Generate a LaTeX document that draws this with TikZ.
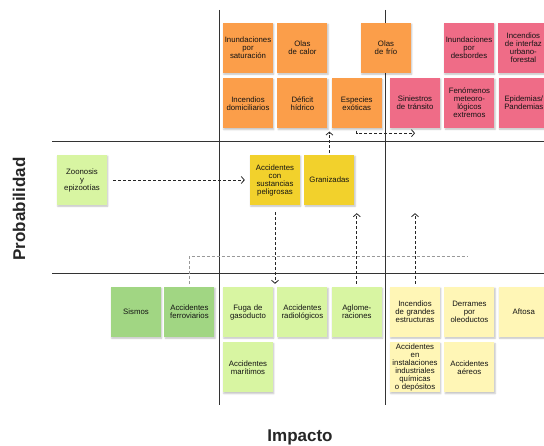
\documentclass[tikz,border=0pt]{standalone}
\usepackage{fontspec}
\setmainfont{Liberation Sans}
\usetikzlibrary{arrows.meta,positioning,shadows.blur}
\definecolor{notaorange}{HTML}{FB9E4A}
\definecolor{notarosa}{HTML}{EF6C87}
\definecolor{notaamarilla}{HTML}{F2D12C}
\definecolor{notaverde}{HTML}{D8F5A2}
\definecolor{notaverdeosc}{HTML}{A1D683}
\definecolor{notacrema}{HTML}{FFF6B6}
\tikzset{
  nota/.style={
    rectangle,
    minimum width=50pt,
    minimum height=50pt,
    inner sep=0pt,
    text width=50pt,
    align=center,
    text=black!92,
    font=\fontsize{7.8}{8}\selectfont,
    blur shadow={shadow xshift=0.8pt, shadow yshift=-1.2pt, shadow blur radius=1.6pt, shadow opacity=25}
  },
  naranja/.style={nota, fill=notaorange},
  rosa/.style={nota, fill=notarosa},
  amarilla/.style={nota, fill=notaamarilla},
  verde/.style={nota, fill=notaverde},
  verdeosc/.style={nota, fill=notaverdeosc},
  crema/.style={nota, fill=notacrema},
  eje/.style={draw=black!80, line width=0.8pt},
  etiqueta/.style={font=\fontsize{17}{20}\selectfont\bfseries, text=black!85},
  enlace/.style={
    -{Straight Barb[length=3pt,width=7pt]},
    dash pattern=on 3pt off 2pt,
    line width=0.8pt,
    draw=black!85
  },
  enlacegris/.style={
    dash pattern=on 3pt off 2pt,
    line width=0.8pt,
    draw=black!40
  }
}

\begin{document}
\begin{tikzpicture}[x=1pt, y=-1pt]
  \useasboundingbox (0,0) rectangle (544,446);

  % cuadrantes
  \draw[eje] (219,10) -- (219,405);
  \draw[eje] (385,10) -- (385,405);
  \draw[eje] (52,141) -- (544,141);
  \draw[eje] (52,273) -- (544,273);

  \node[etiqueta, rotate=90] (probabilidad) at (19,209) {Probabilidad};
  \node[etiqueta] (impacto) at (300,437) {Impacto};

  % alta probabilidad
  \node[naranja] (inundsat) at (248,48) {Inundaciones\\por\\saturación};
  \node[naranja, right=4pt of inundsat] (olascalor) {Olas\\de calor};
  \node[naranja] (olasfrio) at (386,48) {Olas\\de frío};
  \node[rosa] (inunddesb) at (469,48) {Inundaciones\\por\\desbordes};
  \node[rosa, right=4pt of inunddesb] (interfaz) {Incendios\\de interfaz\\urbano-\\forestal};
  \node[naranja, below=5pt of inundsat] (incdom) {Incendios\\domiciliarios};
  \node[naranja, right=4pt of incdom] (deficit) {Déficit\\hídrico};
  \node[naranja, right=4pt of deficit] (especies) {Especies\\exóticas};
  \node[rosa] (siniestros) at (415,103) {Siniestros\\de tránsito};
  \node[rosa, right=4pt of siniestros] (fenomenos) {Fenómenos\\meteoro-\\lógicos\\extremos};
  \node[rosa, right=4pt of fenomenos] (epidemias) {Epidemias/\\Pandemias};

  % probabilidad media
  \node[verde] (zoonosis) at (82,180) {Zoonosis\\y\\epizootías};
  \node[amarilla] (sustancias) at (275,180) {Accidentes\\con\\sustancias\\peligrosas};
  \node[amarilla, right=4pt of sustancias] (granizadas) {Granizadas};

  % baja probabilidad
  \node[verdeosc] (sismos) at (136,312) {Sismos};
  \node[verdeosc, right=3pt of sismos] (ferroviarios) {Accidentes\\ferroviarios};
  \node[verde] (gasoducto) at (248,312) {Fuga de\\gasoducto};
  \node[verde, right=4pt of gasoducto] (radiologicos) {Accidentes\\radiológicos\\[6pt]};
  \node[verde, right=4pt of radiologicos] (aglomeraciones) {Aglome-\\raciones};
  \node[crema] (estructuras) at (415,312) {Incendios\\de grandes\\estructuras};
  \node[crema, right=4pt of estructuras] (derrames) {Derrames\\por\\oleoductos};
  \node[crema, right=4pt of derrames] (aftosa) {Aftosa};
  \node[verde, below=5pt of gasoducto] (maritimos) {Accidentes\\marítimos\\[6pt]};
  \node[crema, below=5pt of estructuras] (industriales) {Accidentes\\en\\instalaciones\\industriales\\químicas\\o depósitos};
  \node[crema, right=4pt of industriales] (aereos) {Accidentes\\aéreos};

  \coordinate (finreferencia) at (467,256);

  \draw[enlace, shorten <=6pt, shorten >=5pt] (zoonosis) -- (sustancias);
  \draw[enlace, shorten <=2pt, shorten >=3pt] (granizadas.north) -- (granizadas.north |- especies.south);
  \draw[enlace, shorten <=2pt] (especies.south) |- ([yshift=-5pt]siniestros.south);
  \draw[enlace, shorten <=7pt, shorten >=3pt] (sustancias.south) -- (sustancias.south |- gasoducto.north);
  \draw[enlace, shorten <=3pt, shorten >=8pt] (aglomeraciones.north) -- (aglomeraciones.north |- granizadas.south);
  \draw[enlace, shorten <=3pt, shorten >=8pt] (estructuras.north) -- (estructuras.north |- granizadas.south);
  \draw[enlacegris, shorten <=3pt] (ferroviarios.north) |- (finreferencia);
\end{tikzpicture}
\end{document}
